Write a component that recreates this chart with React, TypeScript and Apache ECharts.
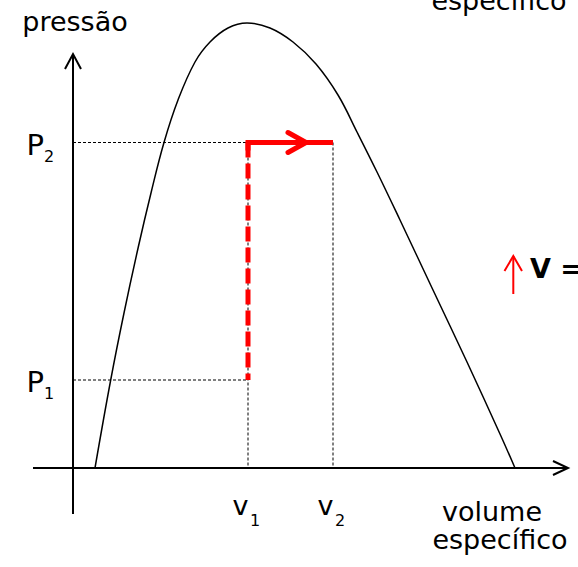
import React, { useEffect, useRef } from "react";
import * as echarts from "echarts";

// Saturation dome (specific volume, pressure), arbitrary units
const domeVolume = [2.2, 3.77, 5.1, 6.53, 7.8, 9.1, 10.5, 12.2, 13.7, 15.5, 17.4, 19.7, 22.0, 24.3, 26.5, 28.4, 30.4, 32.7, 36.0, 39.4, 42.7, 44.2];
const domePressure = [0, 8.8, 15.5, 22.1, 27.5, 32.55, 36.8, 40.6, 42.6, 44.0, 44.5, 44.0, 42.6, 40.4, 37.3, 33.6, 29.6, 24.8, 17.8, 10.6, 3.4, 0];

// Process states
const pressureTicks = [8.8, 32.55];
const pressureTickMain = ["P", "P"];
const pressureTickSub = ["1", "2"];
const volumeTicks = [17.5, 26.0];
const volumeTickMain = ["v", "v"];
const volumeTickSub = ["1", "2"];

// Axis extents (drawn as arrows crossing at the origin)
const xAxisExtent = [-4.0, 49.5];
const yAxisExtent = [-4.6, 41.4];

const FONT = "'DejaVu Sans', Verdana, sans-serif";

export default function App() {
  const ref = useRef<HTMLDivElement>(null);

  useEffect(() => {
    if (!ref.current) return;
    const chart = echarts.init(ref.current, undefined, { renderer: "svg" });
    const [p1, p2] = pressureTicks;
    const [v1, v2] = volumeTicks;
    const black = "#000000";
    const red = "#ff0000";
    const thinDash = { color: black, width: 1, type: [3, 2] as any };

    const line = (name: string, data: number[][], lineStyle: any, z = 2) => ({
      name,
      type: "line",
      data,
      symbol: "none",
      silent: true,
      z,
      lineStyle,
    });

    chart.setOption({
      animation: false,
      grid: { left: 0, right: 0, top: 0, bottom: 0, containLabel: false },
      xAxis: { type: "value", min: -7.3, max: 50.5, show: false },
      yAxis: { type: "value", min: -9.9, max: 46.8, show: false },
      series: [
        line("xAxis", [[xAxisExtent[0], 0], [xAxisExtent[1], 0]], { color: black, width: 2 }),
        line("xArrow", [[xAxisExtent[1] - 1.5, 0.7], [xAxisExtent[1], 0], [xAxisExtent[1] - 1.5, -0.7]], { color: black, width: 2, join: "miter" }),
        line("yAxis", [[0, yAxisExtent[0]], [0, yAxisExtent[1]]], { color: black, width: 2 }),
        line("yArrow", [[-0.8, yAxisExtent[1] - 1.5], [0, yAxisExtent[1]], [0.8, yAxisExtent[1] - 1.5]], { color: black, width: 2, join: "miter" }),
        {
          ...line("dome", domeVolume.map((v, i) => [v, domePressure[i]]), { color: black, width: 1.5 }),
          smooth: 0.4,
        },
        line("p1Guide", [[0, p1], [v1, p1]], thinDash, 1),
        line("p2Guide", [[0, p2], [v2, p2]], thinDash, 1),
        line("v1Guide", [[v1, p2], [v1, 0]], thinDash, 1),
        line("v2Guide", [[v2, p2], [v2, 0]], thinDash, 1),
        line("processVertical", [[v1, p2], [v1, p1]], { color: red, width: 5, type: [15, 6] as any, cap: "butt" }, 5),
        line("processHorizontal", [[v1, p2 - 0.8], [v1, p2], [v2, p2]], { color: red, width: 5, join: "miter", cap: "butt" }, 5),
        line("processArrow", [[v1 + 4.0, p2 + 1.0], [v1 + 5.8, p2], [v1 + 4.0, p2 - 1.0]], { color: red, width: 5, join: "round", cap: "round" }, 6),
      ],
    });

    const toPx = (x: number, y: number) => chart.convertToPixel({ gridIndex: 0 }, [x, y]) as number[];
    const graphics: any[] = [];
    const txt = (text: string, x: number, y: number, size: number, align: string, extra: any = {}) => ({
      type: "text",
      x,
      y,
      silent: true,
      style: { text, fontSize: size, fontFamily: FONT, fill: "#000", align, verticalAlign: "middle", ...extra },
    });

    pressureTicks.forEach((p, i) => {
      const [ax, py] = toPx(0, p);
      graphics.push(txt(pressureTickMain[i], ax - 29, py + 2, 29, "right"));
      graphics.push(txt(pressureTickSub[i], ax - 29, py + 13.5, 16, "left"));
    });
    volumeTicks.forEach((v, i) => {
      const [px, ay] = toPx(v, 0);
      graphics.push(txt(volumeTickMain[i], px + 0.5, ay + 37, 27, "right"));
      graphics.push(txt(volumeTickSub[i], px + 2, ay + 52, 16, "left"));
    });

    graphics.push(txt("pressão", 75, 21, 27, "center"));
    graphics.push(txt("específico", 499, 0, 27, "center"));
    graphics.push(txt("volume", 492, 511, 27, "center"));
    graphics.push(txt("específico", 500, 539, 27, "center"));
    graphics.push(txt("V =", 530, 268, 27, "left", { fontWeight: "bold" }));
    graphics.push({
      type: "polyline",
      silent: true,
      shape: { points: [[504.5, 271], [513.3, 256], [522, 271]] },
      style: { stroke: "#ff0000", lineWidth: 2, fill: null },
    });
    graphics.push({
      type: "line",
      silent: true,
      shape: { x1: 513.3, y1: 256, x2: 513.3, y2: 294 },
      style: { stroke: "#ff0000", lineWidth: 2 },
    });

    chart.setOption({ graphic: graphics });

    return () => chart.dispose();
  }, []);

  return (
    <div
      ref={ref}
      style={{ position: "absolute", left: 0, top: 0, width: 578, height: 567, background: "#fff" }}
    />
  );
}
